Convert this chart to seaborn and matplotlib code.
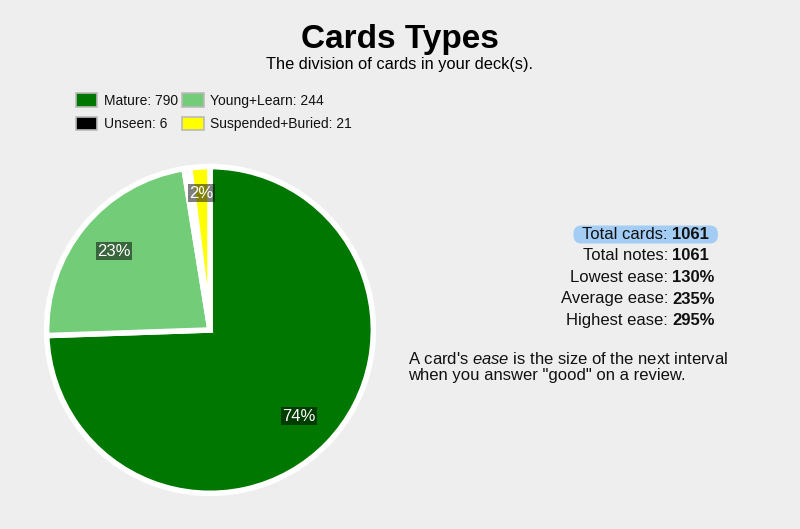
import matplotlib
matplotlib.use("Agg")
import numpy as np
import matplotlib.pyplot as plt
from matplotlib.patches import Patch, FancyBboxPatch
from matplotlib.transforms import Bbox
import seaborn as sns

# Card type counts
categories = ["Mature", "Young+Learn", "Unseen", "Suspended+Buried"]
counts = [790, 244, 6, 21]
colors = ["#007700", "#72cc78", "#000000", "#ffff00"]

# Side stats
stat_labels = ["Total cards", "Total notes", "Lowest ease", "Average ease", "Highest ease"]
stat_values = ["1061", "1061", "130%", "235%", "295%"]

sns.set_style("white")
plt.rcParams["font.family"] = ["Liberation Sans", "DejaVu Sans"]
plt.rcParams["mathtext.fontset"] = "custom"
plt.rcParams["mathtext.rm"] = "Liberation Sans"
plt.rcParams["mathtext.it"] = "Liberation Sans:italic"
plt.rcParams["mathtext.bf"] = "Liberation Sans:bold"

bg = "#eeeeee"
fig = plt.figure(figsize=(8, 5.29), dpi=100, facecolor=bg)

# Pie
ax = fig.add_axes([0.05625, 0.0643, 0.4125, 0.6238])
ax.set_facecolor(bg)
wedges, texts, autotexts = ax.pie(
    counts, colors=colors, startangle=90, counterclock=False,
    autopct=lambda p: f"{p:.0f}%" if p >= 1 else "",
    pctdistance=0.76,
    wedgeprops=dict(edgecolor="white", linewidth=4),
    textprops=dict(color="white", fontsize=12),
)
total = sum(counts)
for w, t, c in zip(wedges, autotexts, counts):
    if t.get_text():
        t.set_bbox(dict(facecolor="black", alpha=0.5, edgecolor="none", boxstyle="square,pad=0.08"))
        if c / total < 0.05:
            # small slices: label sits further out
            ang = np.deg2rad((w.theta1 + w.theta2) / 2)
            t.set_position((0.84 * np.cos(ang), 0.84 * np.sin(ang)))
ax.set_aspect("equal")
ax.set_xlim(-1.01, 1.01)
ax.set_ylim(-1.01, 1.01)

# Title
fig.text(0.5, 0.925, "Cards Types", ha="center", va="center", fontsize=24, fontweight="bold", color="black")
fig.text(0.5, 0.879, "The division of cards in your deck(s).", ha="center", va="center", fontsize=11.8, color="black")

# Legend (row-major order for two columns)
handles = [Patch(facecolor=c, edgecolor="#bbbbbb", linewidth=1.2, label=f"{n}: {v}")
           for n, v, c in zip(categories, counts, colors)]
order = [0, 2, 1, 3]
leg = fig.legend(handles=[handles[i] for i in order], loc="upper left", bbox_to_anchor=(0.088, 0.834), ncol=2,
                 frameon=False, fontsize=10, handlelength=1.55, handleheight=1.1,
                 handletextpad=0.5, columnspacing=0.25, labelspacing=0.65, borderaxespad=0)
for t in leg.get_texts():
    t.set_color("#111111")

# Stats on the right: labels right-aligned at the colon, values bold on the left
x_colon = 668 / 800
y0 = 1 - 239 / 529
step = 21.5 / 529
row_texts = []
for i, (lab, val) in enumerate(zip(stat_labels, stat_values)):
    y = y0 - i * step
    t1 = fig.text(x_colon, y, f"{lab}:", ha="right", va="baseline", fontsize=12, color="#111111", zorder=3)
    t2 = fig.text(x_colon + 4 / 800, y, val, ha="left", va="baseline", fontsize=12,
                  fontweight="bold", color="#111111", zorder=3)
    row_texts.append((t1, t2))

# highlight pill behind the first row
fig.canvas.draw()
r = fig.canvas.get_renderer()
bb = Bbox.union([row_texts[0][0].get_window_extent(r), row_texts[0][1].get_window_extent(r)])
pad_x, pad_y = 9, 1.5
pill = FancyBboxPatch((bb.x0 - pad_x, bb.y0 - pad_y), bb.width + 2 * pad_x, bb.height + 2 * pad_y,
                      boxstyle="round,pad=0,rounding_size=8", facecolor="#a3cdf5",
                      edgecolor="none", transform=None, zorder=2)
fig.patches.append(pill)

fig.text(0.51, 1 - 367 / 529,
         "A card's $\\mathit{ease}$ is the size of the next interval\nwhen you answer \"good\" on a review.",
         ha="left", va="center", fontsize=12, linespacing=1.05, color="#111111")

fig.savefig("out.png", dpi=100, facecolor=bg)
